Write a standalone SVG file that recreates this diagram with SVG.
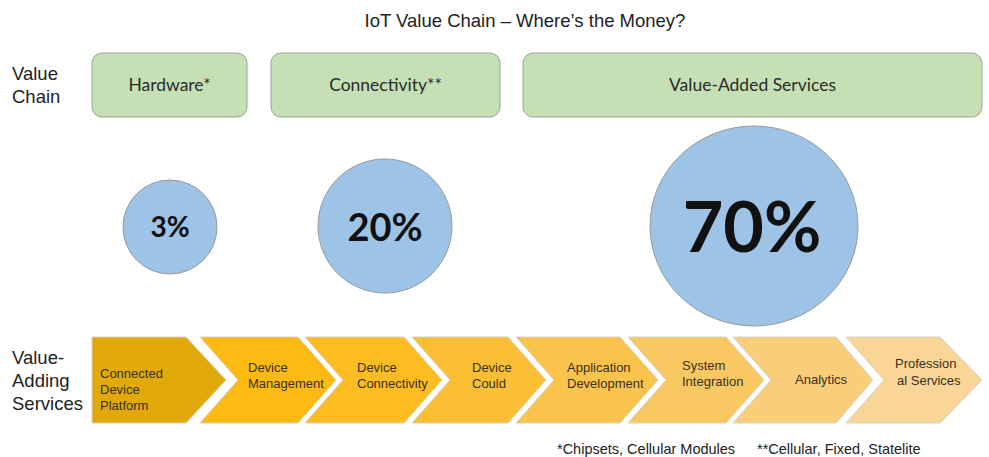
<svg xmlns="http://www.w3.org/2000/svg" width="989" height="457" viewBox="0 0 989 457">
  <style>
    .title { font-family: "Liberation Sans", Arial, sans-serif; font-size: 18.5px; fill: #222; }
    .side { font-family: "Liberation Sans", Arial, sans-serif; font-size: 18.5px; fill: #222; }
    .box { fill: #C5E0B4; stroke: #9aa597; stroke-width: 1; }
    .boxlbl { font-family: Lato, "Open Sans", sans-serif; font-size: 17.5px; fill: #2b2b2b; text-anchor: middle; }
    .bubble { fill: #9DC3E6; stroke: #9a9a9a; stroke-width: 1; }
    .pct { font-family: Lato, "Open Sans", sans-serif; font-weight: 700; fill: #111; text-anchor: middle; }
    .chev { stroke: #d8d2c4; stroke-width: 1; }
    .clbl { font-family: "Liberation Sans", Arial, sans-serif; font-size: 13px; fill: #3a3020; }
    .note { font-family: "Liberation Sans", Arial, sans-serif; font-size: 14.5px; fill: #222; }
  </style>

  <rect width="989" height="457" fill="#ffffff"/>

  <text class="title" x="525" y="27" text-anchor="middle">IoT Value Chain – Where’s the Money?</text>

  <!-- row labels -->
  <g id="label-value-chain">
    <text class="side" x="12" y="80">Value</text>
    <text class="side" x="12" y="103">Chain</text>
  </g>
  <g id="label-value-adding">
    <text class="side" x="12" y="364">Value-</text>
    <text class="side" x="12" y="387">Adding</text>
    <text class="side" x="12" y="410">Services</text>
  </g>

  <!-- value chain segments -->
  <g id="hardware">
    <rect class="box" x="92" y="53" width="155" height="64" rx="10"/>
    <text class="boxlbl" x="169.5" y="91">Hardware*</text>
  </g>
  <g id="connectivity">
    <rect class="box" x="271" y="53" width="229" height="64" rx="10"/>
    <text class="boxlbl" x="385.5" y="91">Connectivity**</text>
  </g>
  <g id="value-added-services">
    <rect class="box" x="523" y="53" width="459" height="64" rx="10"/>
    <text class="boxlbl" x="752.5" y="91">Value-Added Services</text>
  </g>

  <!-- revenue share bubbles -->
  <g id="share-hardware">
    <circle class="bubble" cx="170" cy="227" r="47"/>
    <text class="pct" x="170" y="237" font-size="28">3%</text>
  </g>
  <g id="share-connectivity">
    <circle class="bubble" cx="385" cy="226" r="67"/>
    <text class="pct" x="385" y="241" font-size="38">20%</text>
  </g>
  <g id="share-services">
    <ellipse class="bubble" cx="754" cy="226" rx="104" ry="100"/>
    <text class="pct" x="752" y="252" font-size="70">70%</text>
  </g>

  <!-- value-adding services process -->
  <g id="connected-device-platform">
    <polygon class="chev" fill="#E2A90C" points="92,337 186,337 226,380 186,423 92,423"/>
    <text class="clbl" x="100" y="378">Connected</text>
    <text class="clbl" x="100" y="394">Device</text>
    <text class="clbl" x="100" y="410">Platform</text>
  </g>
  <g id="device-management">
    <polygon class="chev" fill="#FCBA12" points="200,337 298,337 336,380 298,423 200,423 238,380"/>
    <text class="clbl" x="248" y="372">Device</text>
    <text class="clbl" x="248" y="388">Management</text>
  </g>
  <g id="device-connectivity">
    <polygon class="chev" fill="#FCBC22" points="305,337 404,337 442,380 404,423 305,423 343,380"/>
    <text class="clbl" x="357" y="372">Device</text>
    <text class="clbl" x="357" y="388">Connectivity</text>
  </g>
  <g id="device-could">
    <polygon class="chev" fill="#FBBF36" points="412,337 508,337 546,380 508,423 412,423 450,380"/>
    <text class="clbl" x="472" y="372">Device</text>
    <text class="clbl" x="472" y="388">Could</text>
  </g>
  <g id="application-development">
    <polygon class="chev" fill="#FAC34C" points="516,337 620,337 658,380 620,423 516,423 554,380"/>
    <text class="clbl" x="567" y="372">Application</text>
    <text class="clbl" x="567" y="388">Development</text>
  </g>
  <g id="system-integration">
    <polygon class="chev" fill="#F9C862" points="628,337 726,337 764,380 726,423 628,423 666,380"/>
    <text class="clbl" x="682" y="370">System</text>
    <text class="clbl" x="682" y="386">Integration</text>
  </g>
  <g id="analytics">
    <polygon class="chev" fill="#F9CD7A" points="733,337 836,337 873,380 836,423 733,423 771,380"/>
    <text class="clbl" x="795" y="384">Analytics</text>
  </g>
  <g id="professional-services">
    <polygon class="chev" fill="#F9D597" points="846,337 940,337 982,380 940,423 846,423 884,380"/>
    <text class="clbl" x="895" y="368">Profession</text>
    <text class="clbl" x="897" y="385">al Services</text>
  </g>

  <g id="connectors"/>

  <!-- footnotes -->
  <text class="note" x="557" y="454">*Chipsets, Cellular Modules</text>
  <text class="note" x="757" y="454">**Cellular, Fixed, Statelite</text>
</svg>
